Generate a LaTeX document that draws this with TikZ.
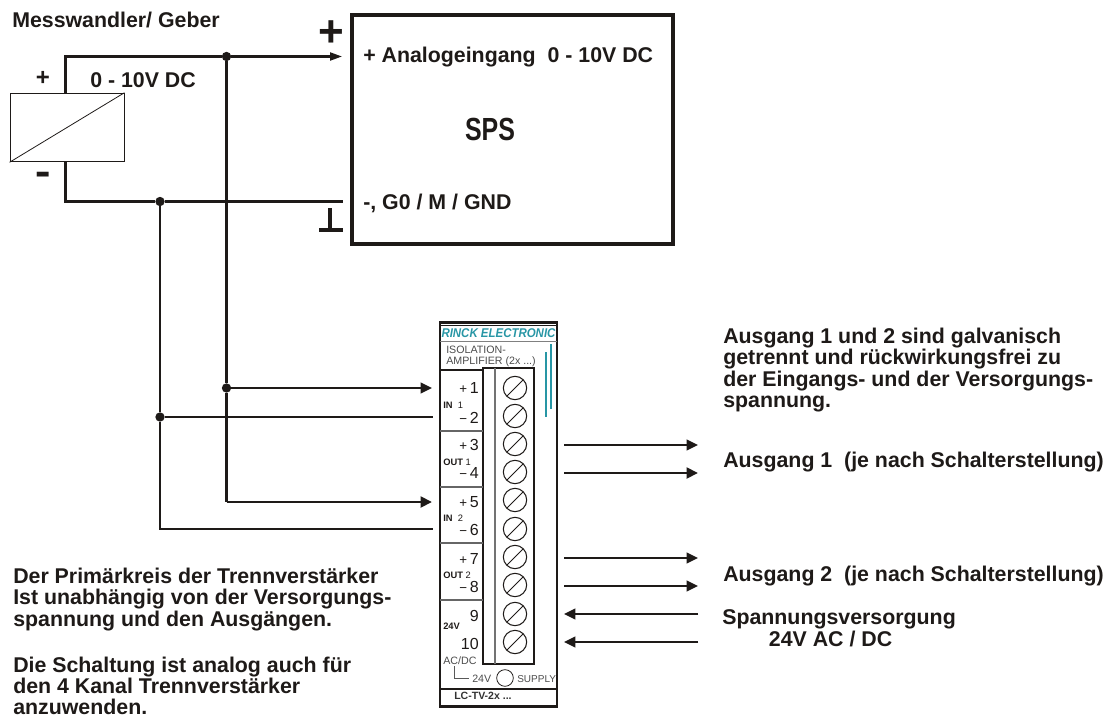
\documentclass[tikz,border=0pt]{standalone}
\usepackage{fontspec}
\setmainfont{Liberation Sans}
\usetikzlibrary{arrows.meta}
\definecolor{rinckteal}{RGB}{40,150,165}
\definecolor{tinte}{RGB}{30,26,24}
\newcommand{\pl}{{\fontsize{10}{10}\selectfont +}\,}
\newcommand{\mi}{{\fontsize{10}{10}\selectfont −}\,}
\tikzset{
  lbl/.style={inner sep=0pt, anchor=base west, text=tinte, font=\bfseries\fontsize{16}{16}\selectfont},
  para/.style={inner sep=0pt, anchor=north west, align=left, text=tinte, font=\bfseries\fontsize{16}{16.1}\selectfont},
  small/.style={inner sep=0pt, anchor=base west, font=\fontsize{8}{8.5}\selectfont, text=black!70},
  term/.style={inner sep=0pt, anchor=base east, font=\fontsize{12}{12}\selectfont, text=tinte},
  tag/.style={inner sep=0pt, anchor=base west, text=tinte, font=\bfseries\fontsize{7}{7}\selectfont},
  wire/.style={draw=tinte, line width=2.2pt},
  thinwire/.style={draw=tinte, line width=1.6pt},
  to/.style={-{Triangle[length=8.5pt,width=8pt]}, fill=tinte},
  dot/.style={circle, fill=tinte, inner sep=0pt, minimum size=7pt},
  screw/.style={circle, draw=tinte, line width=0.8pt, inner sep=0pt, minimum size=17.5pt,
    path picture={\draw[tinte, line width=0.7pt] (path picture bounding box.south west) -- (path picture bounding box.north east);}}
}
\begin{document}
\begin{tikzpicture}[x=0.75pt,y=-0.75pt]
  \useasboundingbox (0,0) rectangle (1107,717);

  % Sensor
  \node[lbl] (titel) at (12,28) {Messwandler/ Geber};
  \node[draw=tinte, line width=0.7pt, inner sep=0pt, minimum width=85.5pt, minimum height=51.5pt] (wandler) at (67,127.5) {};
  \draw[tinte, line width=0.6pt] (wandler.south west) -- (wandler.north east);
  \node[lbl, font=\bfseries\fontsize{18}{18}\selectfont, anchor=center] (plus) at (43,78) {+};
  \node[lbl, font=\bfseries\fontsize{18}{18}\selectfont, anchor=center, yscale=2] (minus) at (43.5,180) {–};
  \node[lbl] (spannung) at (90,88) {0 - 10V DC};

  % SPS
  \node[draw=tinte, line width=2.6pt, inner sep=0pt, minimum width=240.75pt, minimum height=171.75pt] (sps) at (512.5,129.5) {};
  \node[lbl] (ein) at (363,63) {+ Analogeingang\ \ 0 - 10V DC};
  \node[lbl, font=\bfseries\fontsize{24}{24}\selectfont, anchor=base, xscale=0.78] (spsname) at (490,140) {SPS};
  \node[lbl] (gnd) at (363,209) {-, G0 / M / GND};
  \node[lbl, font=\bfseries\fontsize{33}{33}\selectfont, anchor=center] (plusgross) at (331,33.5) {+};
  \coordinate (massetop) at (330,208);
  \coordinate (massefuss) at (330,230);
  \coordinate (massel) at (319,230);
  \coordinate (masser) at (343,230);
  \draw[tinte, line width=3pt] (massetop) -- (massefuss);
  \draw[tinte, line width=3.6pt] (massel) -- (masser);

  % Device
  \node[draw=tinte, line width=1.6pt, inner sep=0pt, minimum width=88pt, minimum height=288pt] (geraet) at (498.5,514.5) {};
  \draw[tinte, line width=1pt] (440,325.5) -- (557,325.5);
  \draw[black!50, line width=0.7pt] (440,341) -- (557,341);
  \node[inner sep=0pt, text=rinckteal, xscale=0.905, font=\bfseries\itshape\fontsize{9.5}{9.5}\selectfont] (rinck) at (498.5,333) {RINCK ELECTRONIC};
  \node[small] (iso) at (446,353) {ISOLATION-};
  \node[small] (amp) at (446,364) {AMPLIFIER (2x ...)};
  \draw[rinckteal, line width=1pt] (546,352) -- (546,417);
  \draw[rinckteal, line width=1pt] (551,344) -- (551,409);
  \node[draw=tinte, line width=1.2pt, inner sep=0pt, minimum width=38.25pt, minimum height=222pt] (leiste) at (508.5,516) {};
  \draw[black!55, line width=1pt] (495,368) -- (495,664);
  \draw[tinte, line width=1pt] (440,370) -- (483,370);

  % Separators
  \draw[black!60, line width=1.2pt] (440,431) -- (483,431);
  \draw[black!60, line width=1.2pt] (440,487) -- (483,487);
  \draw[black!60, line width=1.2pt] (440,543) -- (483,543);
  \draw[black!60, line width=1.2pt] (440,600) -- (483,600);
  \draw[tinte, line width=1.2pt] (440,689) -- (557,689);

  % Screws
  \node[screw] (s1)  at (515,388) {};
  \node[screw] (s2)  at (515,416) {};
  \node[screw] (s3)  at (515,444) {};
  \node[screw] (s4)  at (515,472) {};
  \node[screw] (s5)  at (515,500) {};
  \node[screw] (s6)  at (515,529) {};
  \node[screw] (s7)  at (515,557) {};
  \node[screw] (s8)  at (515,585) {};
  \node[screw] (s9)  at (515,614) {};
  \node[screw] (s10) at (515,642) {};

  % Terminals
  \node[term] (t1)  at (479,393) {\pl 1};
  \node[term] (t2)  at (479,423) {\mi 2};
  \node[term] (t3)  at (479,450) {\pl 3};
  \node[term] (t4)  at (479,478) {\mi 4};
  \node[term] (t5)  at (479,507) {\pl 5};
  \node[term] (t6)  at (479,535) {\mi 6};
  \node[term] (t7)  at (479,564) {\pl 7};
  \node[term] (t8)  at (479,592) {\mi 8};
  \node[term] (t9)  at (479,621) {9};
  \node[term] (t10) at (479,649) {10};
  \node[tag] (in1)  at (443,408) {IN\ \ \textmd{1}};
  \node[tag] (out1) at (443,465) {OUT\ \textmd{1}};
  \node[tag] (in2)  at (443,521) {IN\ \ \textmd{2}};
  \node[tag] (out2) at (443,578) {OUT\ \textmd{2}};
  \node[tag] (tag24) at (443,629) {24V};
  \node[small] (acdc) at (443,664) {AC/DC};
  \node[small] (v24) at (472,682) {24V};
  \node[draw=tinte, circle, line width=0.6pt, inner sep=0pt, minimum size=12.5pt] (led) at (505,678) {};
  \node[small, font=\fontsize{7.5}{8}\selectfont] (supply) at (517,682) {SUPPLY};
  \coordinate (acdcfuss) at (454,666);
  \coordinate (v24links) at (469,678);
  \draw[black!65, line width=0.6pt] (acdcfuss) |- (v24links);
  \node[inner sep=0pt, anchor=base west, font=\bfseries\fontsize{7.9}{7.9}\selectfont, text=black!80] (typ) at (454,699) {LC-TV-2x ...};

  % Wires
  \coordinate (plusein) at (342,56.5);
  \coordinate (minusein) at (343,201.5);
  \node[dot] (knotenplus) at (226.5,56.5) {};
  \node[dot] (knotenminus) at (160,201.5) {};
  \node[dot] (knotenin1) at (226.5,388) {};
  \node[dot] (knotenin1m) at (160,417) {};
  \coordinate (in1p) at (432,388);
  \coordinate (in1m) at (433,417);
  \coordinate (in2p) at (432,502);
  \coordinate (in2m) at (433,529);
  \coordinate (eckeplus) at (65.5,56.5);
  \coordinate (eckeminus) at (65.5,201.5);
  \coordinate (eckein2p) at (226.5,502);
  \coordinate (eckein2m) at (160,529);
  \draw[wire] (wandler.north -| eckeplus) -- (eckeplus) -- (knotenplus);
  \draw[thinwire, -{Triangle[length=9pt,width=6pt]}, fill=tinte] (knotenplus) -- (plusein);
  \draw[wire] (wandler.south -| eckeminus) -- (eckeminus) -- (knotenminus);
  \draw[thinwire] (knotenminus) -- (minusein);
  \draw[wire] (knotenplus) -- (knotenin1) -- (eckein2p);
  \draw[wire, to] (eckein2p) -- (in2p);
  \draw[thinwire, to] (knotenin1) -- (in1p);
  \draw[wire] (knotenminus) -- (knotenin1m) -- (eckein2m) -- (in2m);
  \draw[wire] (knotenin1m) -- (in1m);

  % Outputs
  \coordinate (a1s) at (564,445);
  \coordinate (a1e) at (698,445);
  \coordinate (a2s) at (564,473);
  \coordinate (a2e) at (698,473);
  \coordinate (a3s) at (564,558);
  \coordinate (a3e) at (698,558);
  \coordinate (a4s) at (564,586);
  \coordinate (a4e) at (698,586);
  \coordinate (v1s) at (698,614);
  \coordinate (v1e) at (564,614);
  \coordinate (v2s) at (698,642);
  \coordinate (v2e) at (564,642);
  \draw[thinwire, to] (a1s) -- (a1e);
  \draw[wire, to] (a2s) -- (a2e);
  \draw[thinwire, to] (a3s) -- (a3e);
  \draw[thinwire, to] (a4s) -- (a4e);
  \draw[thinwire, to] (v1s) -- (v1e);
  \draw[thinwire, to] (v2s) -- (v2e);

  % Texts
  \node[para] (hinweis) at (723,327.5) {Ausgang 1 und 2 sind galvanisch\\getrennt und rückwirkungsfrei zu\\der Eingangs- und der Versorgungs-\\spannung.};
  \node[lbl] (ausgang1) at (723,467) {Ausgang 1\ \ (je nach Schalterstellung)};
  \node[lbl] (ausgang2) at (723,581) {Ausgang 2\ \ (je nach Schalterstellung)};
  \node[para] (versorgung) at (722,609.5) {Spannungsversorgung\\\hspace*{35pt}24V AC / DC};
  \node[para] (primaer) at (13,567.5) {Der Primärkreis der Trennverstärker\\Ist unabhängig von der Versorgungs-\\spannung und den Ausgängen.};
  \node[para, font=\bfseries\fontsize{16}{15.8}\selectfont] (analog) at (13,656.5) {Die Schaltung ist analog auch für\\den 4 Kanal Trennverstärker\\anzuwenden.};
\end{tikzpicture}
\end{document}
